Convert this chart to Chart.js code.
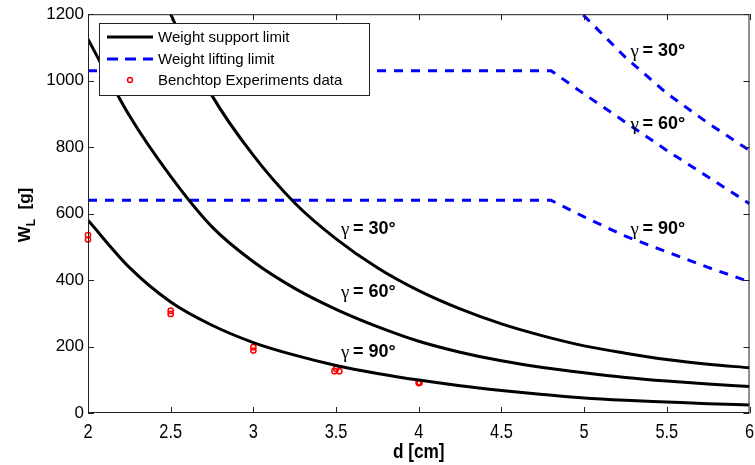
<!DOCTYPE html>
<html><head><meta charset="utf-8">
<script src="https://cdn.jsdelivr.net/npm/chart.js@4"></script>
<style>html,body{margin:0;padding:0;background:#fff;overflow:hidden}</style>
</head><body>
<canvas id="c" width="755" height="465"></canvas>
<script>
// ---- data ----
const dSupport = [2, 2.25, 2.5, 2.75, 3, 3.25, 3.5, 3.75, 4, 4.25, 4.5, 4.75, 5, 5.25, 5.5, 5.75, 6];
const support90 = [580, 438, 334, 264, 212, 174, 143, 119, 99, 82, 68, 56, 45, 38, 33, 28, 24];
const support60 = [1125, 895, 712, 560, 455, 375, 312, 260, 216, 183, 157, 137, 121, 107, 96, 87, 80];
const dSupport30 = [2.4, 2.5, 2.75, 3, 3.25, 3.5, 3.75, 4, 4.25, 4.5, 4.75, 5, 5.25, 5.5, 5.75, 6];
const support30 = [1330, 1200, 955, 775, 632, 524, 437, 368, 313, 268, 232, 202, 180, 161, 147, 136];

const dLift = [2, 4.8, 5, 5.25, 5.5, 5.75, 6];
const lift90 = [640, 640, 590, 532, 485, 438, 395];
const lift60 = [1030, 1030, 960, 875, 790, 710, 630];
const lift30 = [1300, 1300, 1195, 1070, 962, 872, 790];

const expD = [2, 2, 2.5, 2.5, 3, 3, 3.5, 3.49, 3.52, 4, 4, 4.005];
const expW = [535, 522, 308, 298, 198, 188, 133, 126, 126, 93, 90, 91];

const xTicks = [2, 2.5, 3, 3.5, 4, 4.5, 5, 5.5, 6];
const yTicks = [0, 200, 400, 600, 800, 1000, 1200];

const legendLabels = ['Weight support limit', 'Weight lifting limit', 'Benchtop Experiments data'];
const curveLabels = ['30°', '60°', '90°', '30°', '60°', '90°'];
const curveLabelD = [3.53, 3.53, 3.53, 5.28, 5.28, 5.28];
const curveLabelW = [555, 363, 183, 1089, 870, 555];

const pts = (xs, ys) => xs.map((x, i) => ({x, y: ys[i]}));

const solid = (xs, ys) => ({data: pts(xs, ys), borderColor: '#000', borderWidth: 3, pointRadius: 0,
  cubicInterpolationMode: 'monotone', fill: false});
const dashed = (xs, ys) => ({data: pts(xs, ys), borderColor: '#0000ff', borderWidth: 3, pointRadius: 0,
  borderDash: [9, 8], tension: 0, fill: false});

const SANS = "'Liberation Sans', Arial, sans-serif";

const decor = {
  id: 'decor',
  afterDatasetsDraw(chart) {
    const {ctx, chartArea: a, scales: {x, y}} = chart;
    ctx.save();
    // box
    ctx.strokeStyle = '#222';
    ctx.lineWidth = 1;
    ctx.strokeRect(a.left + 0.5, a.top + 0.5, a.right - a.left - 1, a.bottom - a.top - 1);
    // inward ticks
    const tl = 6;
    ctx.beginPath();
    xTicks.forEach(v => {
      const px = Math.round(x.getPixelForValue(v)) + 0.5;
      ctx.moveTo(px, a.bottom); ctx.lineTo(px, a.bottom - tl);
      ctx.moveTo(px, a.top); ctx.lineTo(px, a.top + tl);
    });
    yTicks.forEach(v => {
      const py = Math.round(y.getPixelForValue(v)) + 0.5;
      ctx.moveTo(a.left, py); ctx.lineTo(a.left + tl, py);
      ctx.moveTo(a.right, py); ctx.lineTo(a.right - tl, py);
    });
    ctx.stroke();

    // x tick labels (condensed) and x title
    ctx.fillStyle = '#000';
    ctx.textAlign = 'center';
    ctx.textBaseline = 'middle';
    xTicks.forEach(v => {
      const px = x.getPixelForValue(v);
      ctx.save();
      ctx.translate(px, a.bottom + 19);
      ctx.scale(0.78, 1);
      ctx.font = "21px " + SANS;
      ctx.fillText(String(v), 0, 0);
      ctx.restore();
    });
    ctx.save();
    ctx.translate((a.left + a.right) / 2, a.bottom + 39);
    ctx.scale(0.82, 1);
    ctx.font = "bold 21px " + SANS;
    ctx.fillText('d [cm]', 0, 0);
    ctx.restore();

    // curve labels
    ctx.textBaseline = 'middle';
    ctx.textAlign = 'left';
    curveLabels.forEach((t, i) => {
      const px = x.getPixelForValue(curveLabelD[i]);
      const py = y.getPixelForValue(curveLabelW[i]);
      ctx.font = "19px 'Liberation Serif', 'DejaVu Serif', serif";
      ctx.fillText('γ', px, py + 1);
      ctx.font = "bold 18px " + SANS;
      ctx.fillText('= ' + t, px + 12, py);
    });

    // legend
    const lx = 99, ly = 23, lw = 270, lh = 72;
    ctx.fillStyle = '#fff';
    ctx.fillRect(lx, ly, lw, lh);
    ctx.strokeStyle = '#222';
    ctx.lineWidth = 1;
    ctx.strokeRect(lx + 0.5, ly + 0.5, lw, lh);
    const rows = [37, 59, 80];
    ctx.lineWidth = 3;
    ctx.strokeStyle = '#000';
    ctx.beginPath(); ctx.moveTo(107, rows[0]); ctx.lineTo(153, rows[0]); ctx.stroke();
    ctx.strokeStyle = '#0000ff';
    ctx.setLineDash([11, 7]);
    ctx.beginPath(); ctx.moveTo(107, rows[1]); ctx.lineTo(153, rows[1]); ctx.stroke();
    ctx.setLineDash([]);
    ctx.strokeStyle = '#ff0000';
    ctx.lineWidth = 1.5;
    ctx.beginPath(); ctx.arc(130, rows[2], 2.5, 0, Math.PI * 2); ctx.stroke();
    ctx.fillStyle = '#000';
    ctx.font = "15px " + SANS;
    ctx.textAlign = 'left';
    legendLabels.forEach((t, i) => ctx.fillText(t, 158, rows[i] + 1));

    // y axis title with subscript
    ctx.save();
    ctx.translate(24, 215);
    ctx.rotate(-Math.PI / 2);
    ctx.textBaseline = 'alphabetic';
    ctx.font = "bold 17px " + SANS;
    const w1 = ctx.measureText('W').width;
    ctx.font = "bold 12px " + SANS;
    const w2 = ctx.measureText('L').width;
    ctx.font = "bold 17px " + SANS;
    const w3 = ctx.measureText('  [g]').width;
    let sx = -(w1 + w2 + w3) / 2;
    ctx.fillText('W', sx, 6);
    ctx.font = "bold 12px " + SANS;
    ctx.fillText('L', sx + w1, 11);
    ctx.font = "bold 17px " + SANS;
    ctx.fillText('  [g]', sx + w1 + w2, 6);
    ctx.restore();

    ctx.restore();
  }
};

new Chart(document.getElementById('c').getContext('2d'), {
  type: 'line',
  data: {
    datasets: [
      solid(dSupport, support90),
      solid(dSupport, support60),
      solid(dSupport30, support30),
      dashed(dLift, lift90),
      dashed(dLift, lift60),
      dashed(dLift, lift30),
      {type: 'scatter', data: pts(expD, expW), showLine: false, pointRadius: 2.6, pointBorderWidth: 1.5,
        pointBorderColor: '#ff0000', pointBackgroundColor: 'rgba(255,255,255,0)', clip: false}
    ]
  },
  options: {
    responsive: false,
    animation: false,
    devicePixelRatio: 1,
    layout: {padding: {top: 13, right: 4, left: 0, bottom: 0}},
    plugins: {legend: {display: false}, tooltip: {enabled: false}},
    scales: {
      x: {
        type: 'linear', min: 2, max: 6,
        afterBuildTicks: s => { s.ticks = xTicks.map(v => ({value: v})); },
        ticks: {display: false},
        grid: {display: false, drawTicks: false},
        border: {display: false},
        afterFit: s => { s.height = 52; }
      },
      y: {
        type: 'linear', min: 0, max: 1200,
        afterBuildTicks: s => { s.ticks = yTicks.map(v => ({value: v})); },
        ticks: {color: '#000', font: {family: SANS, size: 17}, padding: 4, callback: v => String(v)},
        grid: {display: false, drawTicks: false},
        border: {display: false},
        afterFit: s => { s.width = 88; }
      }
    }
  },
  plugins: [decor]
});
</script>
</body></html>
